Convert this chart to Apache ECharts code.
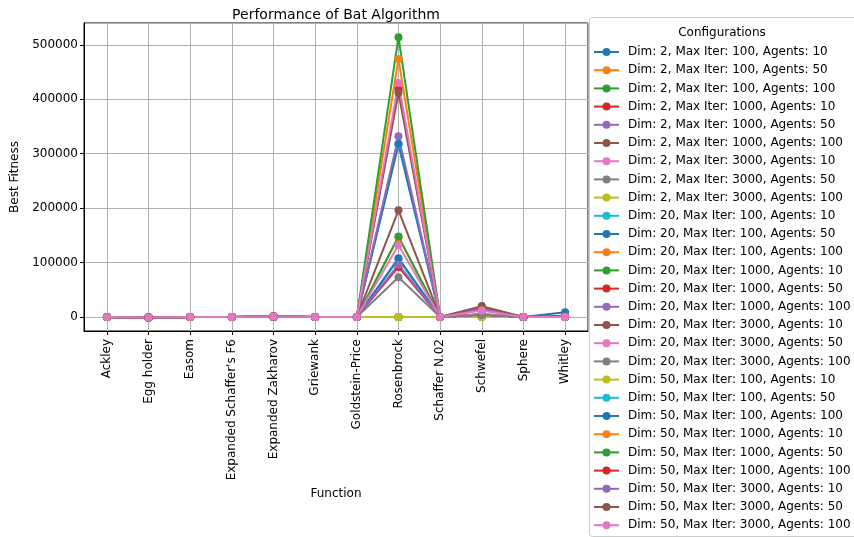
<!DOCTYPE html>
<html>
<head>
<meta charset="utf-8">
<script src="https://cdn.jsdelivr.net/npm/echarts@6/dist/echarts.min.js"></script>
<style>html,body{margin:0;padding:0;background:#fff}#c{width:854px;height:537px}</style>
</head>
<body>
<div id="c"></div>
<script>
// Categories (functions)
const functions = ["Ackley","Egg holder","Easom","Expanded Schaffer's F6","Expanded Zakharov","Griewank","Goldstein-Price","Rosenbrock","Schaffer N.02","Schwefel","Sphere","Whitley"];
// Configuration parameters
const dims = [2, 20, 50];
const maxIters = [100, 1000, 3000];
const agentsList = [10, 50, 100];
// Best fitness per function, one value per configuration (27, in legend order)
const ackley     = [2.1,1.3,0.9,0.6,0.4,0.3,0.5,0.2,0.1, 17.8,16.9,16.2,15.4,14.8,14.1,13.9,13.2,12.8, 19.6,19.3,19.0,18.7,18.4,18.1,17.9,17.6,17.2];
const eggHolder  = [-894,-935,-951,-912,-948,-959,-936,-955,-959, -820,-870,-900,-860,-910,-940,-880,-930,-950, -700,-760,-800,-750,-820,-860,-780,-840,-880];
const easom      = [-1,-1,-1,-0.98,-1,-1,-1,-1,-1, 0,0,0,0,0,0,0,0,0, 0,0,0,0,0,0,0,0,0];
const schafferF6 = [0.1,0.05,0.03,0.04,0.02,0.01,0.03,0.01,0.01, 6.2,5.8,5.5,5.1,4.9,4.6,4.8,4.4,4.1, 18.3,17.9,17.5,17.1,16.8,16.4,16.6,16.2,15.9];
const zakharov   = [0.5,0.2,0.1,0.1,0.05,0.02,0.04,0.01,0.01, 320,290,260,240,220,200,210,190,170, 1250,1180,1120,1090,1040,990,1010,960,920];
const griewank   = [0.05,0.03,0.02,0.02,0.01,0.01,0.01,0.01,0.0, 21,19,17,16,15,14,14,13,12, 82,78,74,71,68,65,66,63,60];
const goldstein  = [30.2,3.1,3.0,3.4,3.0,3.0,3.0,3.0,3.0, 84,30,12,25,8,3,10,3,3, 90,45,20,38,15,6,22,9,3];
const rosenbrock = [45,12,6,8,3,1.5,4,1,0.5, 106000,108000,147000,148000,92000,96000,196000,132000,73000, 0,317000,318000,474000,514000,418000,332000,412000,430000];
const schafferN2 = [0.02,0.01,0.0,0.01,0.0,0.0,0.0,0.0,0.0, 0.45,0.42,0.4,0.38,0.36,0.35,0.36,0.34,0.33, 0.49,0.48,0.47,0.47,0.46,0.45,0.46,0.45,0.44];
const schwefel   = [710,480,350,520,300,220,400,250,180, 5200,4900,4700,4600,4400,4300,4500,5500,4000, 15000,14500,14000,19000,15500,16000,15200,20000,12000];
const sphere     = [0.01,0.0,0.0,0.0,0.0,0.0,0.0,0.0,0.0, 18,16,15,14,13,12,12,11,10, 72,69,66,63,61,58,60,57,55];
const whitley    = [60,30,20,25,15,10,18,8,5, 900,820,760,700,650,600,620,580,540, 1300,1200,8500,1100,1050,1000,1020,980,0];

const table = [ackley, eggHolder, easom, schafferF6, zakharov, griewank, goldstein, rosenbrock, schafferN2, schwefel, sphere, whitley];
const palette = ['#1f77b4','#ff7f0e','#2ca02c','#d62728','#9467bd','#8c564b','#e377c2','#7f7f7f','#bcbd22','#17becf'];

const names = [];
dims.forEach(d => maxIters.forEach(it => agentsList.forEach(a => names.push(`Dim: ${d}, Max Iter: ${it}, Agents: ${a}`))));

const FONT = 'DejaVu Sans';
const FS = 12;
const series = names.map((n, k) => ({
  name: n,
  type: 'line',
  symbol: 'circle',
  symbolSize: 8,
  showSymbol: true,
  lineStyle: { width: 2 },
  emphasis: { disabled: true },
  animation: false,
  z: 2,
  data: functions.map((f, i) => [i, table[i][k]])
}));

const chart = echarts.init(document.getElementById('c'), null, { renderer: 'canvas' });
chart.setOption({
  animation: false,
  color: palette,
  textStyle: { fontFamily: FONT },
  title: {
    text: 'Performance of Bat Algorithm',
    left: 331, top: 3, textAlign: 'center',
    textStyle: { fontFamily: FONT, fontSize: 14, fontWeight: 'normal', color: '#000' }
  },
  grid: { left: 84, right: 266, top: 23, bottom: 206, show: true, borderColor: '#000', borderWidth: 1, backgroundColor: 'transparent' },
  xAxis: {
    type: 'value', min: -0.55, max: 11.55, splitNumber: 12, minInterval: 1,
    name: 'Function', nameLocation: 'middle', nameGap: 157,
    nameTextStyle: { fontFamily: FONT, fontSize: FS, color: '#000' },
    axisLine: { show: true, onZero: false, lineStyle: { color: '#000', width: 1 } },
    axisTick: { show: true, length: 4, lineStyle: { color: '#000' } },
    axisLabel: {
      rotate: 90, fontFamily: FONT, fontSize: FS, color: '#000', margin: 8,
      showMinLabel: false, showMaxLabel: false,
      formatter: v => (Number.isInteger(v) && functions[v] !== undefined) ? functions[v] : ''
    },
    splitLine: { show: true, lineStyle: { color: '#b0b0b0', width: 1 } }
  },
  yAxis: {
    type: 'value', min: -25750, max: 540000, splitNumber: 5,
    name: 'Best Fitness', nameLocation: 'middle', nameGap: 54,
    nameTextStyle: { fontFamily: FONT, fontSize: FS, color: '#000' },
    axisLine: { show: true, onZero: false, lineStyle: { color: '#000', width: 1 } },
    axisTick: { show: true, length: 4, lineStyle: { color: '#000' } },
    axisLabel: { fontFamily: FONT, fontSize: FS, color: '#000', margin: 6, showMinLabel: false, showMaxLabel: false,
      formatter: v => String(v) },
    splitLine: { show: true, lineStyle: { color: '#b0b0b0', width: 1 } }
  },
  legend: {
    orient: 'vertical', left: 593, top: 46, bottom: 0,
    itemWidth: 25, itemHeight: 10, itemGap: 6.2,
    padding: 0,
    textStyle: { fontFamily: FONT, fontSize: FS, color: '#000', padding: [0, 0, 0, 4] },
    data: names
  },
  graphic: [
    { type: 'rect', left: 589, top: 17, z: -1, shape: { width: 280, height: 519, r: 3 },
      style: { fill: 'rgba(255,255,255,0.8)', stroke: '#cccccc', lineWidth: 1 } },
    { type: 'text', x: 722, y: 27, z: 10,
      style: { text: 'Configurations', fontFamily: FONT, fontSize: FS, fill: '#000', textAlign: 'center' } }
  ],
  series: series
});
</script>
</body>
</html>
